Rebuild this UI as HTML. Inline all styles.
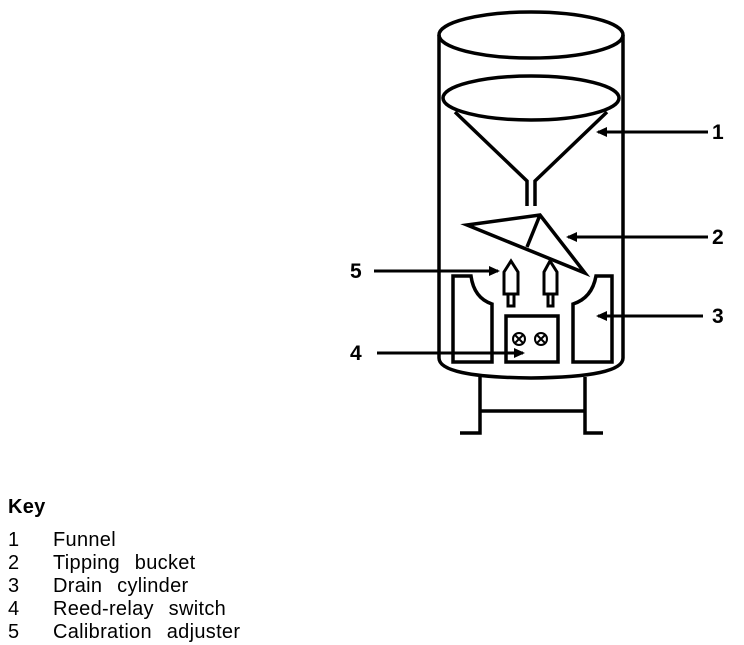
<!DOCTYPE html>
<html><head><style>
body{margin:0;width:744px;height:645px;background:#fff;overflow:hidden;position:relative;font-family:"Liberation Sans",sans-serif}
.k{position:absolute;left:8px;font-size:20px;line-height:23px;color:#000;word-spacing:9px;letter-spacing:0.3px}
.k span{position:absolute;left:45px;white-space:nowrap}
</style></head><body>
<svg width="744" height="645" style="position:absolute;left:0;top:0" fill="none" stroke="#000" stroke-width="3.5">
<defs><marker id="a" markerWidth="11" markerHeight="10" refX="9" refY="5" orient="auto" markerUnits="userSpaceOnUse"><path d="M0,0L11,5L0,10z" fill="#000" stroke="none"/></marker></defs>
<ellipse cx="531" cy="35" rx="92" ry="23"/>
<path d="M439,35V358Q439,377 531,378Q623,377 623,358V35"/>
<ellipse cx="531" cy="98" rx="88" ry="22"/>
<path d="M455,112L527,181V206M607,112L535,181V206"/>
<path d="M467,225L540,215L585,273Z M540,215L527,247"/>
<path d="M480,377V433H460M585,377V433H603M480,411H585"/>
<path d="M453,362V276H471Q474,298 492,304V362Z"/>
<path d="M612,362V276H596Q592,298 573,304V362Z"/>
<rect x="506" y="316" width="52" height="46"/>
<g stroke-width="2"><circle cx="519" cy="339" r="6"/><circle cx="541" cy="339" r="6"/>
<path d="M515,335l8,8M523,335l-8,8M537,335l8,8M545,335l-8,8"/></g>
<path d="M504,272V294H518V272L511,261Z M508,294V306H514V294" stroke-width="3"/>
<path d="M544,272V294H557V272L550,261Z M548,294V306H553V294" stroke-width="3"/>
<g stroke-width="3"><path d="M708,132H598" marker-end="url(#a)"/><path d="M708,237H568" marker-end="url(#a)"/><path d="M703,316H598" marker-end="url(#a)"/><path d="M374,271H498" marker-end="url(#a)"/><path d="M377,353H523" marker-end="url(#a)"/></g>
<g fill="#000" stroke="none" font-family="Liberation Sans,sans-serif" font-size="21" font-weight="bold"><text x="712" y="139">1</text><text x="712" y="244">2</text><text x="712" y="323">3</text><text x="350" y="360">4</text><text x="350" y="278">5</text></g>
</svg>
<div class="k" style="top:496px;font-weight:bold">Key</div>
<div class="k" style="top:529px">1<span>Funnel</span></div>
<div class="k" style="top:552px">2<span>Tipping bucket</span></div>
<div class="k" style="top:575px">3<span>Drain cylinder</span></div>
<div class="k" style="top:598px">4<span>Reed-relay switch</span></div>
<div class="k" style="top:621px">5<span>Calibration adjuster</span></div>
</body></html>
